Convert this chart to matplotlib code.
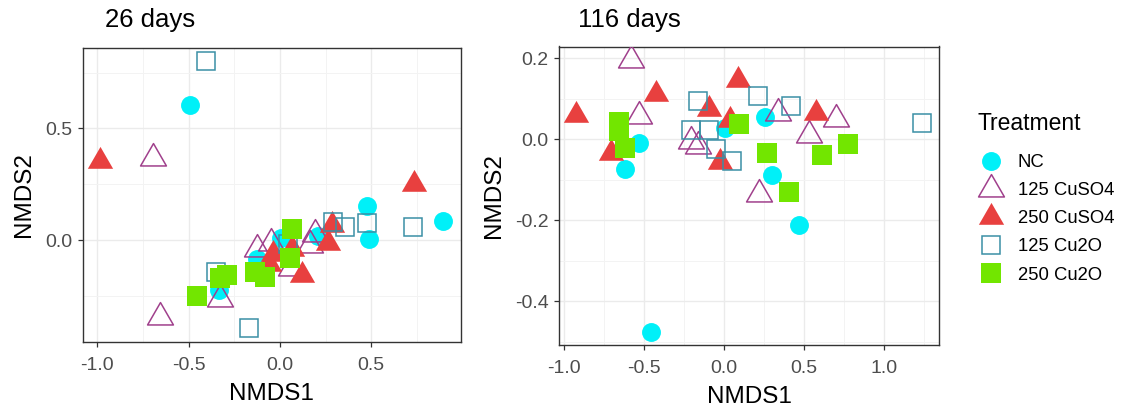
import matplotlib
matplotlib.use("Agg")
import matplotlib.pyplot as plt
from matplotlib.lines import Line2D
from matplotlib.path import Path
from matplotlib.ticker import MultipleLocator, FormatStrFormatter

plt.rcParams["font.family"] = ["Liberation Sans", "DejaVu Sans"]

# ---- data -------------------------------------------------------------
treatments = ["NC", "125 CuSO4", "250 CuSO4", "125 Cu2O", "250 Cu2O"]

# 26 days
d26_nc_x = [-0.493, 0.474, 0.489, 0.894, -0.332, 0.005, 0.207, -0.128]
d26_nc_y = [0.605, 0.154, 0.004, 0.085, -0.222, 0.010, 0.016, -0.085]
d26_cuso4_125_x = [-0.693, -0.657, -0.328, -0.125, -0.050, 0.060, 0.164, 0.192]
d26_cuso4_125_y = [0.368, -0.345, -0.262, -0.040, -0.015, -0.125, -0.024, 0.027]
d26_cuso4_250_x = [-0.985, 0.735, 0.287, 0.265, 0.119, -0.036, -0.060, 0.064]
d26_cuso4_250_y = [0.352, 0.252, 0.068, -0.012, -0.157, -0.062, -0.107, -0.042]
d26_cu2o_125_x = [-0.407, -0.352, -0.170, 0.288, 0.356, 0.478, 0.730, 0.046]
d26_cu2o_125_y = [0.802, -0.145, -0.396, 0.082, 0.060, 0.078, 0.060, -0.020]
d26_cu2o_250_x = [-0.456, -0.330, -0.290, -0.137, -0.082, 0.064, 0.055]
d26_cu2o_250_y = [-0.251, -0.170, -0.155, -0.142, -0.164, 0.048, -0.080]

# 116 days
d116_nc_x = [-0.454, -0.531, -0.620, 0.254, 0.302, 0.469, 0.004]
d116_nc_y = [-0.477, -0.010, -0.074, 0.054, -0.088, -0.212, 0.027]
d116_cuso4_125_x = [-0.585, -0.531, -0.204, -0.166, 0.338, 0.531, 0.698, 0.217]
d116_cuso4_125_y = [0.195, 0.057, -0.005, -0.017, 0.065, 0.010, 0.049, -0.136]
d116_cuso4_250_x = [-0.923, -0.427, 0.088, -0.094, 0.036, 0.577, -0.704, -0.027]
d116_cuso4_250_y = [0.060, 0.112, 0.147, 0.074, 0.048, 0.065, -0.035, -0.057]
d116_cu2o_125_x = [-0.166, 0.213, 0.417, 1.238, -0.210, -0.094, -0.048, 0.052]
d116_cu2o_125_y = [0.095, 0.107, 0.083, 0.039, 0.023, 0.023, -0.025, -0.055]
d116_cu2o_250_x = [-0.658, -0.658, -0.620, 0.094, 0.271, 0.406, 0.609, 0.775]
d116_cu2o_250_y = [0.042, 0.020, -0.022, 0.038, -0.035, -0.131, -0.039, -0.012]

# ---- styles -----------------------------------------------------------
# closed equilateral triangle, centred on its centroid
tri = Path([(0.0, 1.0), (-0.866, -0.5), (0.866, -0.5), (0.0, 1.0)],
           [Path.MOVETO, Path.LINETO, Path.LINETO, Path.CLOSEPOLY])
styles = {
    "NC":        dict(marker="o", ms=13.6, mfc="#00F0F8", mec="#00F0F8", mew=0),
    "125 CuSO4": dict(marker=tri, ms=21.5, mfc="none", mec="#A0408C", mew=1.1),
    "250 CuSO4": dict(marker=tri, ms=21.0, mfc="#E8403F", mec="#E8403F", mew=0),
    "125 Cu2O":  dict(marker="s", ms=13.2, mfc="none", mec="#3A8FA5", mew=1.1),
    "250 Cu2O":  dict(marker="s", ms=14.2, mfc="#72E600", mec="#72E600", mew=0),
}

panels = [
    ("26 days",
     [(d26_nc_x, d26_nc_y), (d26_cuso4_125_x, d26_cuso4_125_y),
      (d26_cuso4_250_x, d26_cuso4_250_y), (d26_cu2o_125_x, d26_cu2o_125_y),
      (d26_cu2o_250_x, d26_cu2o_250_y)],
     (-1.080, 0.991), (-0.4545, 0.862), 0.5, 0.25, 0.5, 0.25),
    ("116 days",
     [(d116_nc_x, d116_nc_y), (d116_cuso4_125_x, d116_cuso4_125_y),
      (d116_cuso4_250_x, d116_cuso4_250_y), (d116_cu2o_125_x, d116_cu2o_125_y),
      (d116_cu2o_250_x, d116_cu2o_250_y)],
     (-1.032, 1.345), (-0.507, 0.229), 0.5, 0.25, 0.2, 0.1),
]

W, H = 1123, 412
fig = plt.figure(figsize=(W / 100, H / 100), dpi=100)

boxes = [(82.7, 47.5, 461.0, 341.5), (559.0, 46.5, 939.3, 344.5)]
title_x = [105, 578]

for (title, series, xlim, ylim, xmaj, xmin, ymaj, ymin), box, tx in zip(panels, boxes, title_x):
    x0, y0, x1, y1 = box
    ax = fig.add_axes([x0 / W, 1 - y1 / H, (x1 - x0) / W, (y1 - y0) / H])
    for name, (xs, ys) in zip(treatments, series):
        ax.plot(xs, ys, linestyle="none", zorder=3, **styles[name])
    ax.set_xlim(*xlim)
    ax.set_ylim(*ylim)
    ax.xaxis.set_major_locator(MultipleLocator(xmaj))
    ax.xaxis.set_minor_locator(MultipleLocator(xmin))
    ax.yaxis.set_major_locator(MultipleLocator(ymaj))
    ax.yaxis.set_minor_locator(MultipleLocator(ymin))
    ax.xaxis.set_major_formatter(FormatStrFormatter("%.1f"))
    ax.yaxis.set_major_formatter(FormatStrFormatter("%.1f"))
    ax.grid(True, which="major", color="#EBEBEB", linewidth=1.0, zorder=0)
    ax.grid(True, which="minor", color="#F3F3F3", linewidth=0.7, zorder=0)
    ax.set_axisbelow(True)
    for sp in ax.spines.values():
        sp.set_color("#333333")
        sp.set_linewidth(1.0)
    ax.tick_params(which="major", length=3.5, width=0.9, color="#333333",
                   labelsize=14, labelcolor="#4D4D4D")
    ax.tick_params(axis="x", which="major", pad=8)
    ax.tick_params(axis="y", which="major", pad=4)
    ax.tick_params(which="minor", length=0)
    ax.set_xlabel("NMDS1", fontsize=17.5, labelpad=6)
    ax.set_ylabel("NMDS2", fontsize=17.5, labelpad=7)
    fig.text(tx / W, 1 - 20 / H, title, fontsize=18.5, ha="left", va="center")

# legend: title as its own text, entries below
fig.text(978 / W, 1 - 124 / H, "Treatment", fontsize=16.5, ha="left", va="center")
handles = [Line2D([], [], linestyle="none", **styles[n]) for n in treatments]
fig.legend(handles, treatments, loc="upper left", bbox_to_anchor=(968 / W, 1 - 145 / H),
           frameon=False, fontsize=13.3, borderpad=0, handlelength=1.5,
           handletextpad=0.7, labelspacing=0.6)

fig.savefig("out.png", dpi=100)
